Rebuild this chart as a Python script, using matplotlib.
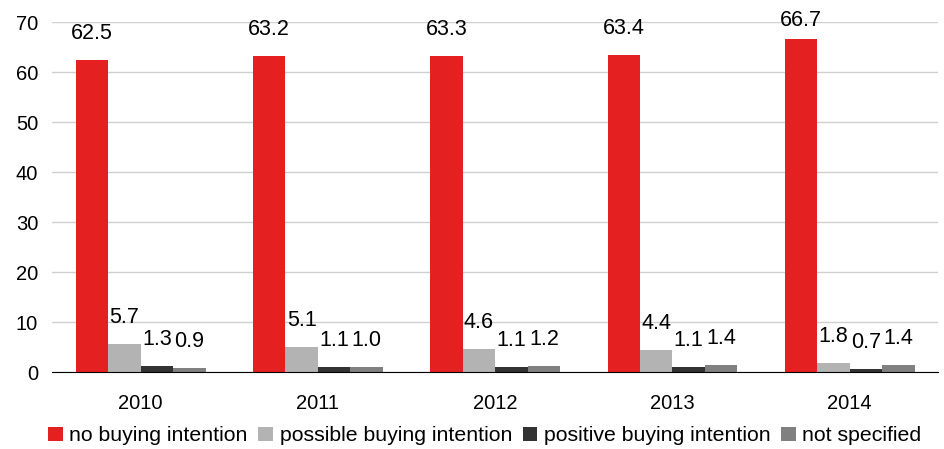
import numpy as np
import matplotlib.pyplot as plt

plt.rcParams['font.family'] = ['Liberation Sans', 'DejaVu Sans']

years = ['2010', '2011', '2012', '2013', '2014']
no_buying = [62.5, 63.2, 63.3, 63.4, 66.7]
possible_buying = [5.7, 5.1, 4.6, 4.4, 1.8]
positive_buying = [1.3, 1.1, 1.1, 1.1, 0.7]
not_specified = [0.9, 1.0, 1.2, 1.4, 1.4]

series = [no_buying, possible_buying, positive_buying, not_specified]
names = ['no buying intention', 'possible buying intention',
         'positive buying intention', 'not specified']
colors = ['#E52020', '#B3B3B3', '#333333', '#808080']

fig = plt.figure(figsize=(9.45, 4.49), dpi=100)
ax = fig.add_axes([0.055, 0.171, 0.938, 0.780])

ymax = 70
px_per_unit = 0.780 * 449 / ymax  # pixel height of one unit

x = np.arange(len(years))
w = 0.183
for i, (vals, name, c) in enumerate(zip(series, names, colors)):
    pos = x + (i - 1.5) * w
    ax.bar(pos, vals, w, color=c, label=name, zorder=3)
    for px, v in zip(pos, vals):
        # labels are kept inside the plot area, like the original chart
        off = min(19, (ymax - v) * px_per_unit * 0.72 + 1)
        ax.annotate(f'{v:.1f}', (px, v), xytext=(0, off), textcoords='offset points',
                    ha='center', va='center', fontsize=15.5)

ax.set_ylim(0, ymax)
ax.set_xlim(-0.5, len(years) - 0.5)
ax.set_yticks(range(0, 71, 10))
ax.set_xticks(x)
ax.set_xticklabels(years)
ax.tick_params(axis='both', length=0, labelsize=14.5)
ax.tick_params(axis='x', pad=16)
ax.tick_params(axis='y', pad=10)
ax.grid(axis='y', color='#D0D0D0', linewidth=1, zorder=0)
for s in ['top', 'right', 'left']:
    ax.spines[s].set_visible(False)
ax.spines['bottom'].set_color('black')
ax.spines['bottom'].set_zorder(4)

fig.legend(loc='center', bbox_to_anchor=(0.513, 0.029), ncol=4, frameon=False,
           fontsize=15.3, handlelength=0.7, handleheight=0.7, handletextpad=0.3,
           columnspacing=0.5)

fig.savefig('out.png', dpi=100)
